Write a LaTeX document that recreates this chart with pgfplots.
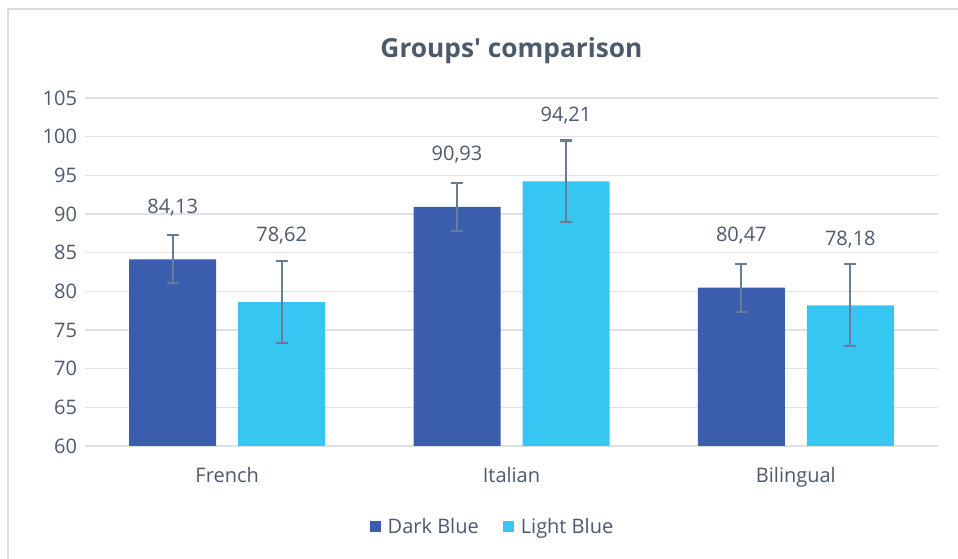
\documentclass[border=0pt]{standalone}
\usepackage{pgfplots}
\pgfplotsset{compat=1.18}
\usepackage{fontspec}
\setmainfont{Open Sans}
\definecolor{darkb}{HTML}{3A5DAE}
\definecolor{lightb}{HTML}{36C6F2}
\definecolor{txt}{HTML}{4D5A6B}
\definecolor{gridc}{HTML}{DDE1E6}
\definecolor{errc}{HTML}{687C95}
\definecolor{framec}{HTML}{D9DCE0}
\begin{document}
\begin{tikzpicture}
\begin{scope}[x=0.75pt,y=0.75pt]
\useasboundingbox (-85,-113) rectangle (873,446);
\draw[framec, line width=1.5pt] (-77,-113) -- (-77,437) -- (873,437);
\end{scope}
\begin{axis}[
  scale only axis, width=639.75pt, height=261pt,
  at={(0pt,0pt)}, anchor=south west,
  ybar=16.5pt, bar width=65.25pt,
  xmin=-0.5, xmax=2.5, ymin=60, ymax=105,
  ytick={60,65,...,105},
  xtick={0,1,2}, xticklabels={French,Italian,Bilingual},
  ymajorgrids, grid style={gridc, line width=1.1pt},
  axis line style={draw=none}, major tick length=0pt,
  tick label style={font=\fontsize{15}{18}\selectfont, text=txt},
  /pgf/number format/assume math mode=true,
  yticklabel style={xshift=-2.5pt},
  xticklabel style={yshift=-12.75pt},
  title={Groups\textquotesingle{} comparison},
  title style={font=\fontsize{19.7}{23}\selectfont\bfseries, text=txt, at={(0.5,1)}, anchor=center, yshift=29.5pt},
  legend style={at={(0.5,0)}, anchor=center, xshift=-14pt, yshift=-60.75pt, draw=none, fill=none,
    legend columns=2, font=\fontsize{15}{18}\selectfont, text=txt,
    /tikz/every odd column/.append style={column sep=3pt},
    /tikz/every even column/.append style={column sep=16pt}},
  legend image code/.code={\fill[#1, draw=none] (0pt,-4pt) rectangle (8.5pt,4.5pt);},
  error bars/y dir=both, error bars/y explicit,
  error bars/error mark=-,
  error bars/error bar style={errc, line width=1.6pt},
  error bars/error mark options={errc, rotate=90, mark size=4.5pt, line width=1.6pt},
]
\addplot[fill=darkb, draw=none,
  nodes near coords,
  every node near coord/.append style={anchor=base, yshift=34.5pt, inner sep=0pt,
    font=\fontsize{15}{18}\selectfont, text=txt},
  /pgf/number format/.cd, use comma, fixed, fixed zerofill, precision=2]
  coordinates {(0,84.13) +- (0,3.1) (1,90.93) +- (0,3.1) (2,80.47) +- (0,3.1)};
\addlegendentry{Dark Blue}
\addplot[fill=lightb, draw=none,
  nodes near coords,
  every node near coord/.append style={anchor=base, yshift=45pt, inner sep=0pt,
    font=\fontsize{15}{18}\selectfont, text=txt},
  /pgf/number format/.cd, use comma, fixed, fixed zerofill, precision=2]
  coordinates {(0,78.62) +- (0,5.3) (1,94.21) +- (0,5.3) (2,78.18) +- (0,5.3)};
\addlegendentry{Light Blue}
\end{axis}
\end{tikzpicture}
\end{document}
